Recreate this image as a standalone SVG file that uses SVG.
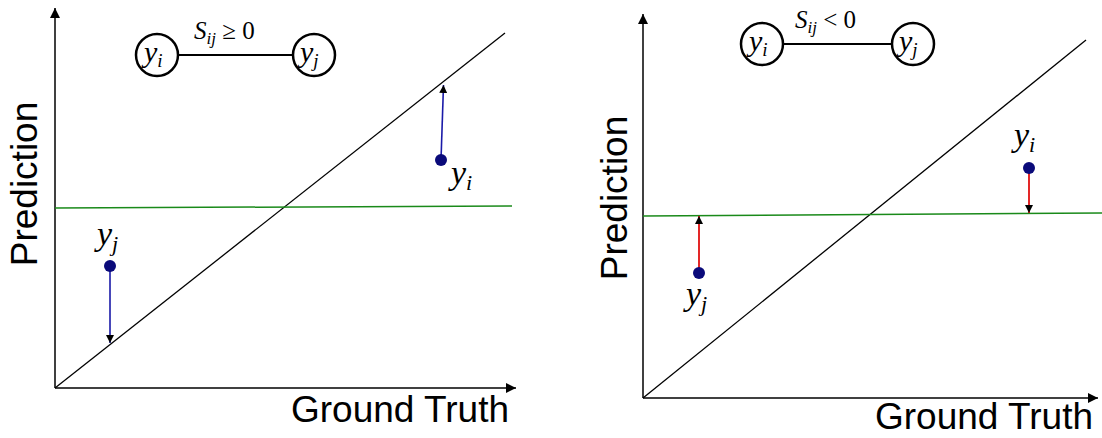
<svg xmlns="http://www.w3.org/2000/svg" width="1102" height="438" viewBox="0 0 1102 438">
<style>
.ax{stroke:#000;stroke-width:1.5;fill:none}
.diag{stroke:#000;stroke-width:1.3}
.green{stroke:#1a8a1a;stroke-width:1.5}
.blue{stroke:#1a1aa8;stroke-width:1.6}
.red{stroke:#e01010;stroke-width:1.8}
.pt{fill:#0a0a7a}
.node{fill:#fff;stroke:#000;stroke-width:2.5}
.edge{stroke:#000;stroke-width:2}
.lbl{font-family:"Liberation Sans",Arial,sans-serif;font-size:37px;fill:#000}
.math{font-family:"Liberation Serif","Times New Roman",serif;font-style:italic;fill:#000}
.rm{font-style:normal}
</style>
<defs>
<marker id="ah" viewBox="0 0 10 10" refX="10" refY="5" markerWidth="8" markerHeight="8" markerUnits="userSpaceOnUse" orient="auto"><path d="M0,0 L10,5 L0,10 z" fill="#000"/></marker>
<marker id="ahs" viewBox="0 0 10 10" refX="10" refY="5" markerWidth="10" markerHeight="10" markerUnits="userSpaceOnUse" orient="auto"><path d="M0,0 L10,5 L0,10 z" fill="#000"/></marker>
</defs>
<g id="left-panel">
<g id="left-axes">
<line class="ax" x1="55" y1="388" x2="55" y2="8" marker-end="url(#ahs)"/>
<line class="ax" x1="55" y1="388" x2="516" y2="388" marker-end="url(#ahs)"/>
<text class="lbl" transform="translate(37,184) rotate(-90)" text-anchor="middle">Prediction</text>
<text class="lbl" x="400" y="422" text-anchor="middle">Ground Truth</text>
</g>
<line class="diag" x1="55" y1="388" x2="505" y2="33"/>
<line class="green" x1="55" y1="208" x2="512" y2="206"/>
<g id="connectors-left">
<line class="blue" x1="110" y1="266" x2="110" y2="343" marker-end="url(#ah)"/>
<line class="blue" x1="441" y1="160" x2="443.5" y2="85" marker-end="url(#ah)"/>
<line class="edge" x1="178" y1="55" x2="293" y2="55"/>
</g>
<circle class="pt" cx="110" cy="266" r="6"/>
<circle class="pt" cx="441" cy="160" r="6"/>
<text class="math" x="451" y="184" font-size="34">y<tspan font-size="22" dy="6">i</tspan></text>
<text class="math" x="97" y="245" font-size="34">y<tspan font-size="22" dy="6">j</tspan></text>
<g id="node-left-yi"><circle class="node" cx="157" cy="55" r="21"/><text class="math" x="144" y="62" font-size="30">y<tspan font-size="19" dy="5">i</tspan></text></g>
<g id="node-left-yj"><circle class="node" cx="314" cy="55" r="21"/><text class="math" x="300" y="62" font-size="30">y<tspan font-size="19" dy="5">j</tspan></text></g>
<text class="math" x="194" y="39" font-size="25">S<tspan font-size="17" dy="5">ij</tspan><tspan class="rm" font-size="25" dy="-5"> ≥ 0</tspan></text>
</g>
<g id="right-panel">
<g id="right-axes">
<line class="ax" x1="643" y1="398" x2="643" y2="14" marker-end="url(#ahs)"/>
<line class="ax" x1="643" y1="398" x2="1098" y2="398" marker-end="url(#ahs)"/>
<text class="lbl" transform="translate(627,198) rotate(-90)" text-anchor="middle">Prediction</text>
<text class="lbl" x="984" y="429" text-anchor="middle">Ground Truth</text>
</g>
<line class="diag" x1="643" y1="398" x2="1086" y2="40"/>
<line class="green" x1="643" y1="216" x2="1102" y2="213"/>
<g id="connectors-right">
<line class="red" x1="699" y1="273" x2="699" y2="216" marker-end="url(#ah)"/>
<line class="red" x1="1029" y1="168" x2="1029" y2="213" marker-end="url(#ah)"/>
<line class="edge" x1="783" y1="44" x2="892" y2="44"/>
</g>
<circle class="pt" cx="699" cy="273" r="6"/>
<circle class="pt" cx="1029" cy="168" r="6"/>
<text class="math" x="1014" y="146" font-size="34">y<tspan font-size="22" dy="6">i</tspan></text>
<text class="math" x="686" y="305" font-size="34">y<tspan font-size="22" dy="6">j</tspan></text>
<g id="node-right-yi"><circle class="node" cx="762" cy="44" r="21"/><text class="math" x="749" y="51" font-size="30">y<tspan font-size="19" dy="5">i</tspan></text></g>
<g id="node-right-yj"><circle class="node" cx="913" cy="44" r="21"/><text class="math" x="899" y="51" font-size="30">y<tspan font-size="19" dy="5">j</tspan></text></g>
<text class="math" x="795" y="28" font-size="25">S<tspan font-size="17" dy="5">ij</tspan><tspan class="rm" font-size="25" dy="-5"> &lt; 0</tspan></text>
</g>
</svg>
